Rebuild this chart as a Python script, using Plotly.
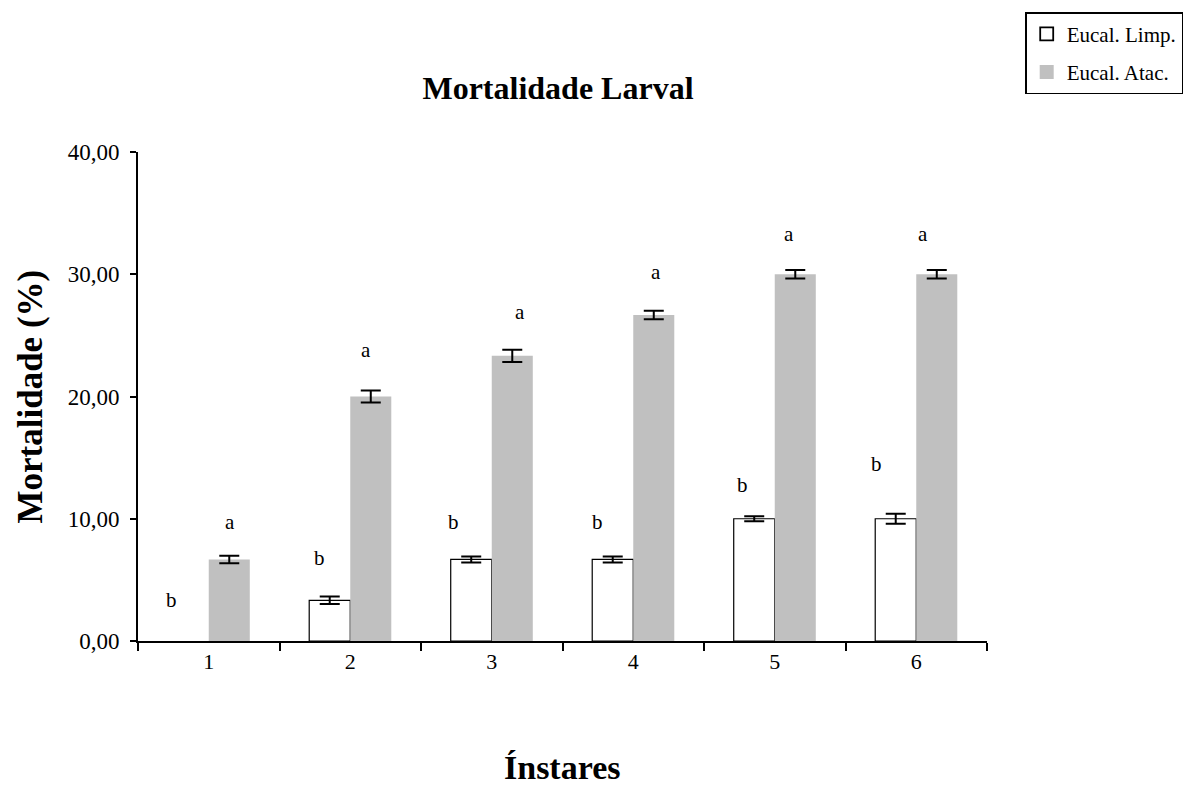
import plotly.graph_objects as go

categories = ["1", "2", "3", "4", "5", "6"]
limp_values = [0, 3.33, 6.67, 6.67, 10.0, 10.0]
limp_errors = [0, 0.3, 0.25, 0.25, 0.2, 0.4]
atac_values = [6.67, 20.0, 23.33, 26.67, 30.0, 30.0]
atac_errors = [0.3, 0.5, 0.5, 0.35, 0.35, 0.35]
limp_letters = ["b", "b", "b", "b", "b", "b"]
limp_letter_y = [3.35, 6.8, 9.7, 9.7, 12.8, 14.5]
atac_letters = ["a", "a", "a", "a", "a", "a"]
atac_letter_y = [9.7, 23.8, 26.9, 30.2, 33.3, 33.3]
y_ticks = [0, 10, 20, 30, 40]

FONT = "Liberation Serif, Times New Roman, serif"
WHITE = "white"
GRAY = "#c0c0c0"

fig = go.Figure()
# legend entries (scatter markers do not disturb bar grouping)
fig.add_trace(go.Scatter(x=[None], y=[None], mode="markers", name="Eucal. Limp.", legendgroup="limp",
                         marker=dict(symbol="square", size=13, color=WHITE,
                                     line=dict(color="black", width=1.8))))
fig.add_trace(go.Scatter(x=[None], y=[None], mode="markers", name="Eucal. Atac.", legendgroup="atac",
                         marker=dict(symbol="square", size=14, color=GRAY, line=dict(width=0))))

# a zero-height bar is not drawn in the reference (no outline, no error bar)
limp_plot_y = [v if v != 0 else None for v in limp_values]
fig.add_trace(go.Bar(
    x=categories, y=limp_plot_y, name="Eucal. Limp.", showlegend=False, legendgroup="limp",
    marker=dict(color=WHITE, line=dict(color="black", width=1.2)),
    error_y=dict(type="data", array=limp_errors, color="black", thickness=2, width=10, visible=True),
))
fig.add_trace(go.Bar(
    x=categories, y=atac_values, name="Eucal. Atac.", showlegend=False, legendgroup="atac",
    marker=dict(color=GRAY, line=dict(width=0)),
    error_y=dict(type="data", array=atac_errors, color="black", thickness=2, width=10, visible=True),
))

annotations = []
limp_dx = [-0.26, -0.22, -0.27, -0.25, -0.23, -0.28]
atac_dx = [0.15, 0.11, 0.2, 0.16, 0.1, 0.05]
for i in range(len(categories)):
    annotations.append(dict(x=i + limp_dx[i], y=limp_letter_y[i], xref="x", yref="y",
                            text=limp_letters[i], showarrow=False,
                            font=dict(family=FONT, size=21, color="black")))
    annotations.append(dict(x=i + atac_dx[i], y=atac_letter_y[i], xref="x", yref="y",
                            text=atac_letters[i], showarrow=False,
                            font=dict(family=FONT, size=21, color="black")))

annotations.append(dict(x=0.5, y=-(767 - 641) / 489, xref="paper", yref="paper", text="<b>Ínstares</b>",
                        xanchor="center", yanchor="middle",
                        showarrow=False, font=dict(family=FONT, size=34, color="black")))
annotations.append(dict(x=-(138 - 30) / 849, y=0.5, xref="paper", yref="paper", text="<b>Mortalidade (%)</b>",
                        xanchor="center", yanchor="middle",
                        textangle=-90, showarrow=False, font=dict(family=FONT, size=35, color="black")))

# page body has an 8px margin, so the figure is drawn 8px right and down
fig.update_layout(
    width=1197, height=789,
    margin=dict(l=130, r=218, t=144, b=156, autoexpand=False),
    paper_bgcolor="white", plot_bgcolor="white",
    barmode="group", bargap=0.42, bargroupgap=0,
    separators=",.",
    font=dict(family=FONT, size=20, color="black"),
    title=dict(text="<b>Mortalidade Larval</b>", x=(558 - 8) / 1197, xref="container", y=1 - 80 / 789,
               yref="container", yanchor="middle", xanchor="center",
               font=dict(family=FONT, size=32, color="black")),
    legend=dict(x=1.045, y=1.286, xanchor="left", yanchor="top",
                bordercolor="black", borderwidth=1.5, bgcolor="white",
                tracegroupgap=8, itemwidth=30,
                font=dict(family=FONT, size=21, color="black")),
    annotations=annotations,
    showlegend=True,
)
fig.update_xaxes(type="category", showline=True, linecolor="black", linewidth=2,
                 ticks="outside", tickson="boundaries", ticklen=8, tickwidth=2, tickcolor="black",
                 showgrid=False, zeroline=False, tickfont=dict(family=FONT, size=22))
fig.update_yaxes(range=[0, 40], tickvals=y_ticks, tickformat=".2f", showline=True, linecolor="black",
                 linewidth=2, ticks="outside", ticklen=6, tickwidth=2, tickcolor="black",
                 ticklabelstandoff=6,
                 showgrid=False, zeroline=False, tickfont=dict(family=FONT, size=23))

fig.write_html("out.html")
